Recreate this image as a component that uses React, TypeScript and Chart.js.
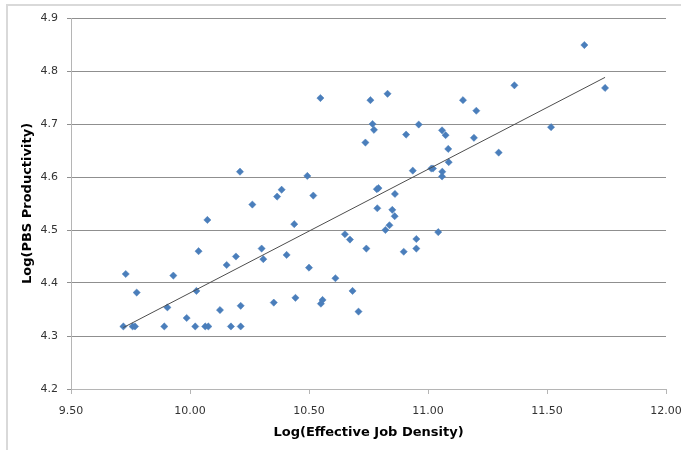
import React, { useEffect, useRef } from "react";
import { Chart, registerables } from "chart.js";

Chart.register(...registerables);

const densityX = [
  9.73, 9.72, 9.759, 9.769, 9.776, 9.892, 9.905, 9.93, 9.986, 10.022,
  10.027, 10.036, 10.064, 10.077, 10.073, 10.126, 10.154, 10.172, 10.193, 10.213,
  10.213, 10.21, 10.262, 10.301, 10.308, 10.352, 10.366, 10.385, 10.406, 10.438,
  10.443, 10.493, 10.5, 10.518, 10.548, 10.55, 10.557, 10.611, 10.651, 10.672,
  10.683, 10.708, 10.737, 10.741, 10.758, 10.767, 10.773, 10.787, 10.785, 10.792,
  10.821, 10.83, 10.838, 10.85, 10.86, 10.861, 10.898, 10.908, 10.936, 10.951,
  10.951, 10.961, 11.014, 11.021, 11.043, 11.059, 11.06, 11.059, 11.074, 11.085,
  11.087, 11.147, 11.193, 11.203, 11.297, 11.363, 11.517, 11.657, 11.744,
];

const productivityY = [
  4.417, 4.318, 4.318, 4.318, 4.382, 4.318, 4.354, 4.414, 4.334, 4.318,
  4.385, 4.46, 4.318, 4.318, 4.519, 4.349, 4.434, 4.318, 4.45, 4.318,
  4.357, 4.61, 4.548, 4.465, 4.445, 4.363, 4.563, 4.576, 4.453, 4.511,
  4.372, 4.602, 4.429, 4.565, 4.749, 4.361, 4.368, 4.409, 4.492, 4.482,
  4.385, 4.346, 4.665, 4.465, 4.745, 4.7, 4.689, 4.541, 4.577, 4.579,
  4.5, 4.757, 4.509, 4.538, 4.526, 4.568, 4.459, 4.68, 4.612, 4.483,
  4.465, 4.699, 4.616, 4.616, 4.496, 4.688, 4.61, 4.601, 4.679, 4.653,
  4.628, 4.745, 4.674, 4.725, 4.646, 4.773, 4.694, 4.849, 4.768,
];

const trendX = [9.72, 11.744];
const trendY = [4.316, 4.788];

const xTicks = [9.5, 10.0, 10.5, 11.0, 11.5, 12.0];
const yTicks = [4.2, 4.3, 4.4, 4.5, 4.6, 4.7, 4.8, 4.9];

const xTitle = "Log(Effective Job Density)";
const yTitle = "Log(PBS Productivity)";

export default function App() {
  const canvasRef = useRef<HTMLCanvasElement | null>(null);

  useEffect(() => {
    const canvas = canvasRef.current;
    if (!canvas) return;
    const points = densityX.map((x, i) => ({ x, y: productivityY[i] }));
    const trend = trendX.map((x, i) => ({ x, y: trendY[i] }));
    const chart = new Chart(canvas, {
      type: "scatter",
      data: {
        datasets: [
          {
            type: "line",
            data: trend,
            borderColor: "#4d4d4d",
            borderWidth: 1,
            pointRadius: 0,
            fill: false,
            order: 0,
          } as any,
          {
            data: points,
            pointStyle: "rectRot",
            pointRadius: 3.6,
            backgroundColor: "#4a7ebb",
            borderColor: "#4a7ebb",
            borderWidth: 0.5,
            order: 1,
          },
        ],
      },
      options: {
        responsive: false,
        animation: false,
        layout: { padding: { left: 0, top: 18, right: 15, bottom: 0 } },
        plugins: {
          legend: { display: false },
          tooltip: { enabled: false },
        },
        scales: {
          x: {
            type: "linear",
            min: 9.5,
            max: 12,
            afterBuildTicks: (scale: any) => {
              scale.ticks = xTicks.map((v) => ({ value: v }));
            },
            afterFit: (scale: any) => {
              scale.height = 61;
              scale.paddingLeft = 0;
              scale.paddingRight = 0;
            },
            ticks: {
              callback: (v: any) => Number(v).toFixed(2),
              font: { family: "DejaVu Sans", size: 11 },
              color: "#333333",
              padding: 11,
              maxRotation: 0,
            },
            grid: {
              drawOnChartArea: false,
              drawTicks: true,
              tickLength: 5,
              tickColor: "#b5b5b5",
            },
            border: { display: true, color: "#b5b5b5", width: 1 },
            title: {
              display: true,
              text: xTitle,
              color: "#000000",
              font: { family: "DejaVu Sans", size: 13, weight: "bold" },
              padding: { top: 4, bottom: 10 },
            },
          },
          y: {
            type: "linear",
            min: 4.2,
            max: 4.9,
            afterBuildTicks: (scale: any) => {
              scale.ticks = yTicks.map((v) => ({ value: v }));
            },
            afterFit: (scale: any) => {
              scale.width = 71;
              scale.paddingTop = 0;
              scale.paddingBottom = 0;
            },
            ticks: {
              callback: (v: any) => Number(v).toFixed(1),
              font: { family: "DejaVu Sans", size: 11 },
              color: "#333333",
              padding: 9,
            },
            grid: {
              color: "#8f8f8f",
              drawTicks: true,
              tickLength: 4,
              tickColor: "#8f8f8f",
            },
            border: { display: true, color: "#b5b5b5", width: 1 },
            title: {
              display: true,
              text: yTitle,
              color: "#000000",
              font: { family: "DejaVu Sans", size: 13, weight: "bold" },
              padding: { top: 20, bottom: 4 },
            },
          },
        },
      },
    });
    return () => chart.destroy();
  }, []);

  return (
    <div
      style={{
        position: "fixed",
        left: 0,
        top: 0,
        width: 681,
        height: 450,
        background: "#ffffff",
        overflow: "hidden",
      }}
    >
      <div
        style={{
          position: "absolute",
          left: 6,
          top: 4,
          width: 700,
          height: 470,
          borderLeft: "2px solid #d9d9d9",
          borderTop: "2px solid #d9d9d9",
        }}
      />
      <canvas
        ref={canvasRef}
        width={681}
        height={450}
        style={{ position: "absolute", left: 0, top: 0, width: 681, height: 450 }}
      />
    </div>
  );
}
